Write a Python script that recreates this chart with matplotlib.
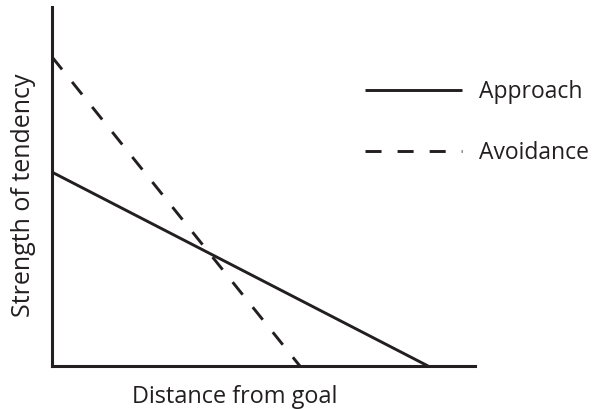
import matplotlib
matplotlib.use("Agg")
import matplotlib.pyplot as plt

plt.rcParams['font.family'] = ['Open Sans', 'DejaVu Sans']

# line end points (x = distance from goal, y = strength of tendency)
approach_x = [0, 8.89]
approach_y = [5.40, 0]
avoid_x = [0, 5.86]
avoid_y = [8.61, 0]

fig = plt.figure(figsize=(6.08, 4.09), dpi=100)
ax = fig.add_axes([52 / 608, 1 - 366 / 409, 423 / 608, 359 / 409])

ax.plot(approach_x, approach_y, color='#231f20', lw=2.1, label='Approach',
        solid_capstyle='butt')
ax.plot(avoid_x, avoid_y, color='#231f20', lw=2.1, linestyle=(0, (5.5, 5.5)),
        label='Avoidance')

ax.set_xlim(0, 10)
ax.set_ylim(0, 10)
ax.set_xticks([])
ax.set_yticks([])
for s in ['top', 'right']:
    ax.spines[s].set_visible(False)
for s in ['left', 'bottom']:
    ax.spines[s].set_linewidth(2.2)
    ax.spines[s].set_color('#231f20')

ax.set_xlabel('Distance from goal', fontsize=16.9, color='#231f20')
ax.xaxis.set_label_coords(0.433, -0.103, transform=ax.transAxes)
ax.xaxis.label.set_va('baseline')
ax.set_ylabel('Strength of tendency', fontsize=18, color='#231f20')
ax.yaxis.set_label_coords(-0.038, 0.476, transform=ax.transAxes)

ax.legend(loc='upper left', bbox_to_anchor=(344 / 608, 1 - 59 / 409),
          bbox_transform=fig.transFigure, frameon=False, fontsize=16.5,
          handlelength=4.23, handletextpad=0.74, labelspacing=1.62,
          labelcolor='#231f20')

fig.savefig('out.png', dpi=100)
